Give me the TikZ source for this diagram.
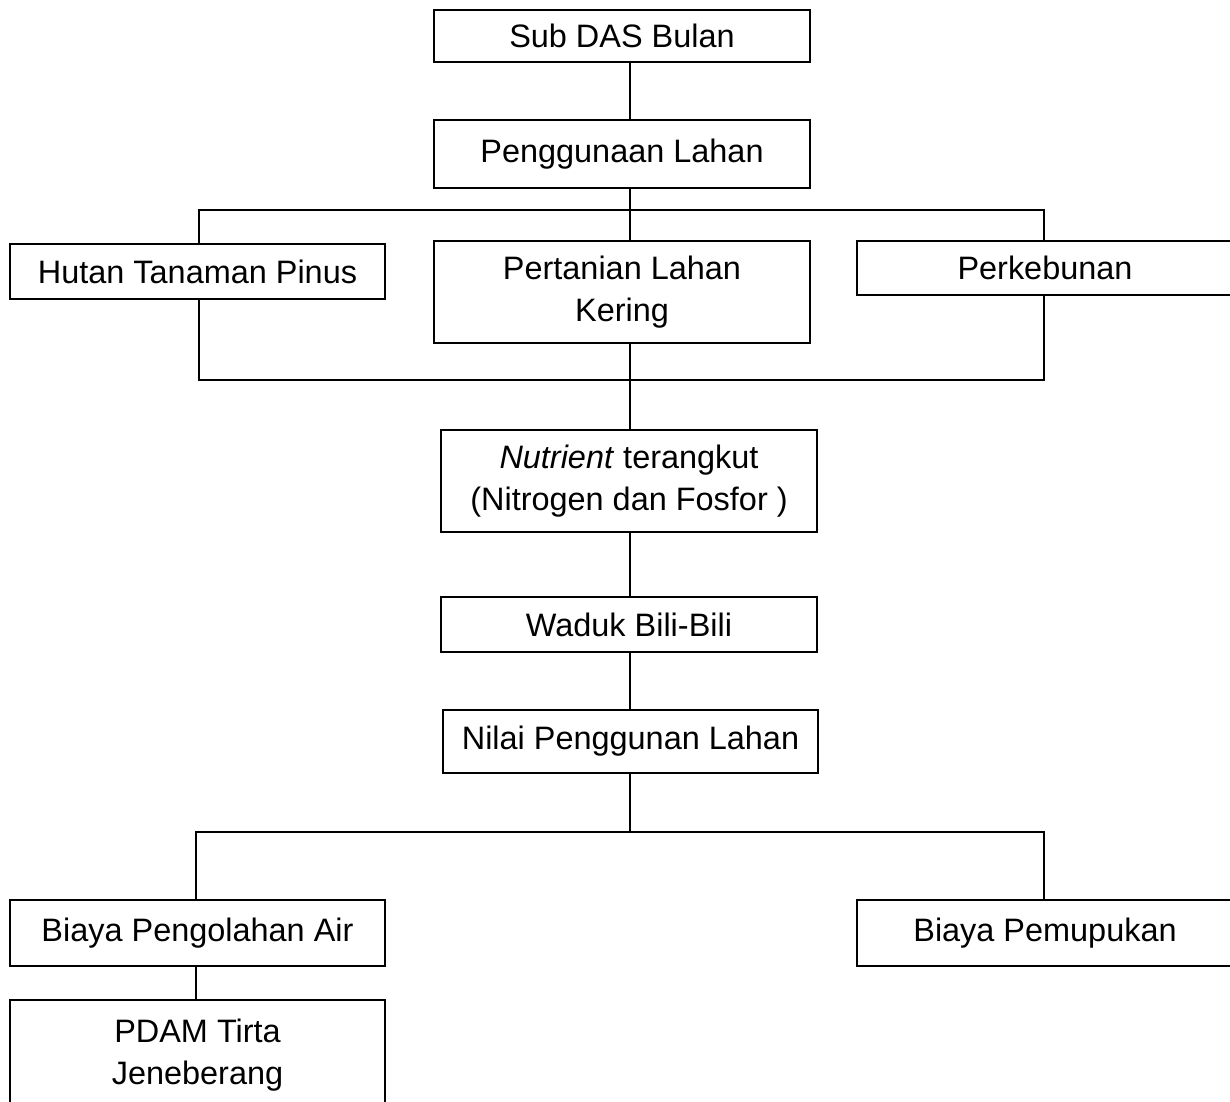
\documentclass[tikz,border=0pt]{standalone}
\usepackage{fontspec}
\setmainfont{Liberation Sans}
\usetikzlibrary{calc}

\begin{document}
\begin{tikzpicture}[x=0.013cm, y=-0.013cm]
    % Styles
    \def\u{0.013cm}%
    \tikzset{kotak/.style 2 args={draw, line width=0.8pt, inner sep=0pt, align=center,%
        minimum width=#1*\u, minimum height=#2*\u,%
        font=\fontsize{12}{15.5}\selectfont}}%
    \tikzset{garis/.style={line width=0.4pt}}%

    % Cadre
    \useasboundingbox (0,0) rectangle (1230,1102);%
    \clip (0,0) rectangle (1230,1102);%

    % Boites
    \node[kotak={376}{52}] (sub) at (622,36) {Sub DAS Bulan};%
    \node[kotak={376}{68}] (guna) at (622,154) {Penggunaan Lahan};%
    \node[kotak={375}{55}] (hutan) at (197.5,271.5) {Hutan Tanaman Pinus};%
    \node[kotak={376}{102}] (tani) at (622,292) {Pertanian Lahan\\Kering};%
    \node[kotak={376}{54}] (kebun) at (1045,268) {Perkebunan};%
    \node[kotak={376}{102}] (nutri) at (629,481) {\textit{Nutrient} terangkut\\(Nitrogen dan Fosfor )};%
    \node[kotak={376}{55}] (waduk) at (629,624.5) {Waduk Bili-Bili};%
    \node[kotak={375}{63}] (nilai) at (630.5,741.5) {Nilai Penggunan Lahan};%
    \node[kotak={375}{66}] (olah) at (197.5,933) {Biaya Pengolahan Air};%
    \node[kotak={376}{66}] (pupuk) at (1045,933) {Biaya Pemupukan};%
    \node[kotak={375}{110}] (pdam) at (197.5,1055) {PDAM Tirta\\Jeneberang};%

    % Points de jonction
    \coordinate (atas) at (630,210);%
    \coordinate (atas kiri) at (199,210);%
    \coordinate (atas kanan) at (1044,210);%
    \coordinate (tengah) at (630,380);%
    \coordinate (tengah kiri) at (199,380);%
    \coordinate (tengah kanan) at (1044,380);%
    \coordinate (bawah) at (630,832);%
    \coordinate (bawah kiri) at (196,832);%
    \coordinate (bawah kanan) at (1044,832);%

    % Tronc central
    \draw[garis] (sub.south -| atas) -- (guna.north -| atas);%
    \draw[garis] (guna.south -| atas) -- (tani.north -| atas);%
    \draw[garis] (tani.south -| atas) -- (nutri.north -| atas);%
    \draw[garis] (nutri.south -| atas) -- (waduk.north -| atas);%
    \draw[garis] (waduk.south -| atas) -- (nilai.north -| atas);%
    \draw[garis] (nilai.south -| bawah) -- (bawah);%

    % Branches penggunaan lahan
    \draw[garis] (hutan.north -| atas kiri) -- (atas kiri) -- (atas kanan) -- (kebun.north -| atas kanan);%
    \draw[garis] (hutan.south -| tengah kiri) -- (tengah kiri) -- (tengah kanan) -- (kebun.south -| tengah kanan);%

    % Branches biaya
    \draw[garis] (olah.north -| bawah kiri) -- (bawah kiri) -- (bawah kanan) -- (pupuk.north -| bawah kanan);%
    \draw[garis] (olah.south -| bawah kiri) -- (pdam.north -| bawah kiri);%
\end{tikzpicture}
\end{document}
